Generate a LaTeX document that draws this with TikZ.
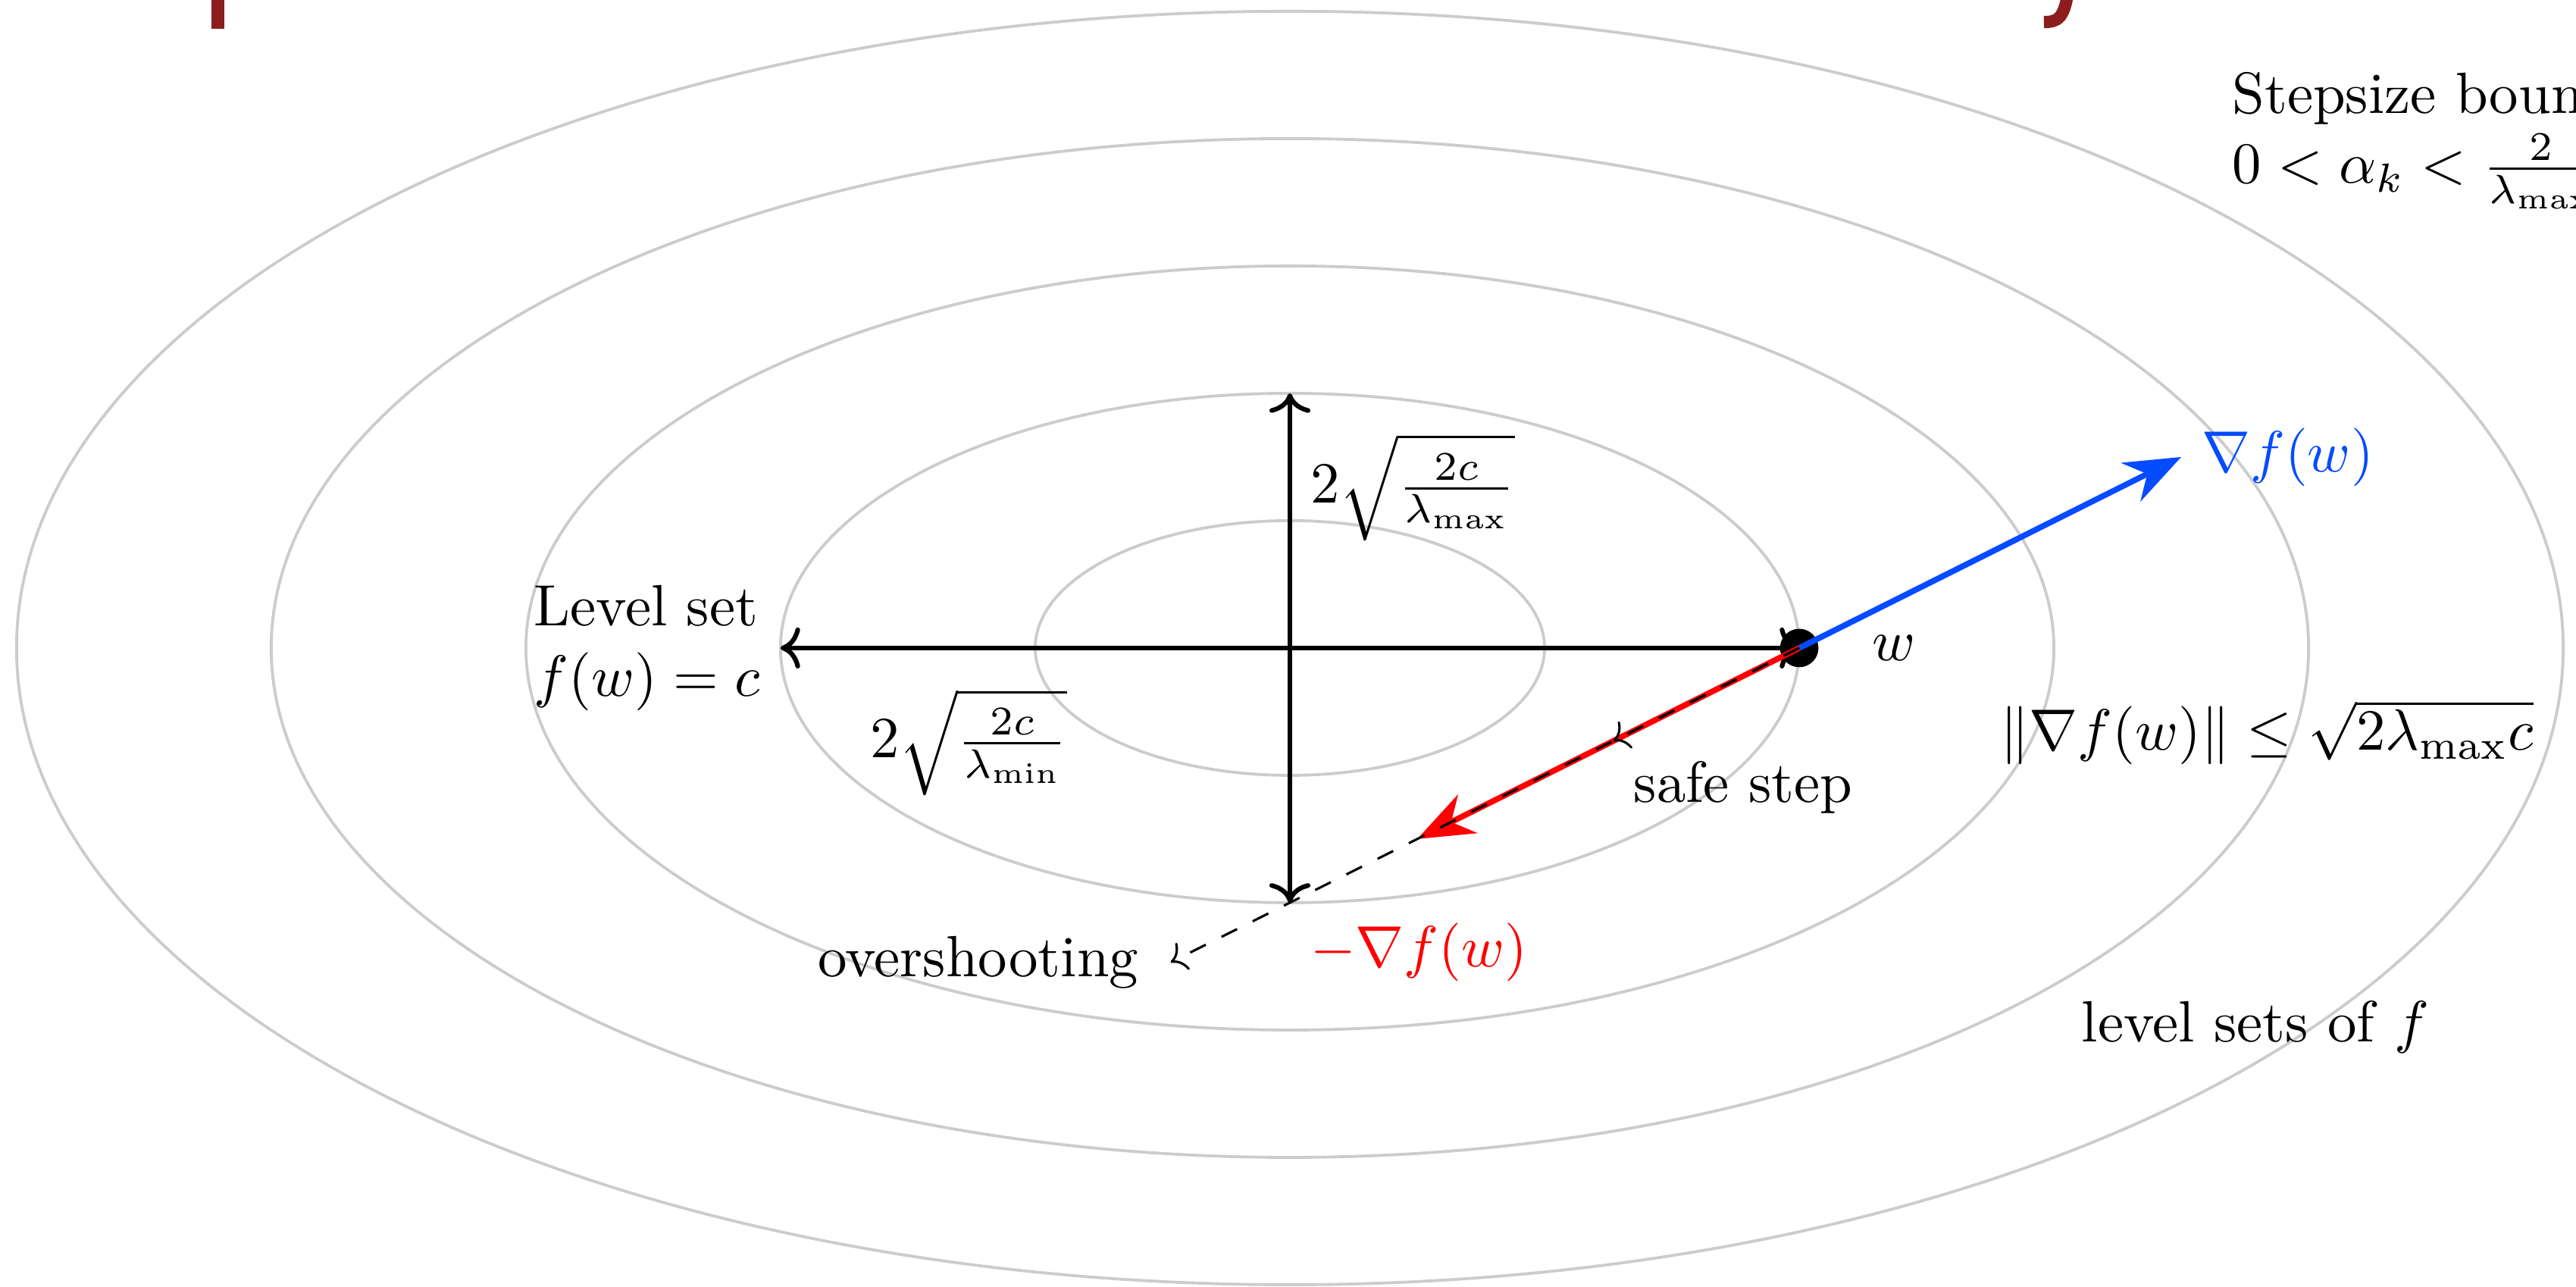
\documentclass[tikz,border=0pt]{standalone}
\usepackage{amsmath}
\usetikzlibrary{arrows.meta}
\definecolor{gradblue}{RGB}{5,75,255}
\definecolor{titlered}{RGB}{140,28,30}

\begin{document}
\begin{tikzpicture}[
    levelset/.style={gray!40, line width=0.5pt},
    axis/.style={thick, <->},
    grad/.style={line width=1pt, -{Stealth[length=3.4mm, width=2.6mm]}},
    trial/.style={dashed, ->}]
  \useasboundingbox (-7.79,-3.858) rectangle (7.767,3.913);
  % what is left of the slide title
  \fill[titlered] (-6.513,3.739) rectangle (-6.435,4.1);
  \draw[titlered, line width=2.1pt] (4.705,4.0) .. controls (4.68,3.80) and (4.64,3.78) .. (4.554,3.78);
  % level sets
  \foreach \k in {1,...,5}
    \draw[levelset] (0,0) ellipse ({1.538*\k} and {0.769*\k});
  \coordinate (w) at (3.076,0);
  \coordinate (L) at (-3.076,0);
  \coordinate (T) at (0,1.538);
  \coordinate (B) at (0,-1.538);
  \coordinate (g) at (5.383,1.1535);
  \coordinate (d) at (0.769,-1.1535);
  \coordinate (s) at (1.953,-0.561);
  \coordinate (o) at (-0.72,-1.898);
  % axes of the level set
  \draw[axis] (L) -- (w);
  \draw[axis] (T) -- (B);
  \fill (w) circle (3.3pt);
  \node[left, align=left] (lvl) at (L) {Level set\\$f(w)=c$};
  \node[right] (amax) at (0,0.97) {$2\sqrt{\frac{2c}{\lambda_{\max}}}$};
  \node (amin) at (-1.94,-0.57) {$2\sqrt{\frac{2c}{\lambda_{\min}}}$};
  \node[right=9pt] (wl) at (w) {$w$};
  % gradient and steps
  \draw[grad, gradblue] (w) -- (g);
  \node[right, gradblue] (gl) at (g) {$\nabla f(w)$};
  \draw[grad, red] (w) -- (d);
  \node[below right, red] (dl) at (B) {$-\nabla f(w)$};
  \draw[trial] (w) -- (s);
  \node[below right] (sl) at (s) {safe step};
  \draw[trial] (w) -- (o);
  \node[left=2pt] (ol) at (o) {overshooting};
  \node (bnd) at (5.9,-0.51) {$\|\nabla f(w)\| \le \sqrt{2\lambda_{\max} c}$};
  \node (lsl) at (5.83,-2.29) {level sets of $f$};
  \node[anchor=north west, align=left] (stepbound) at (5.567,3.6)
    {Stepsize bound:\\$0<\alpha_k<\frac{2}{\lambda_{\max}}$};
\end{tikzpicture}
\end{document}
